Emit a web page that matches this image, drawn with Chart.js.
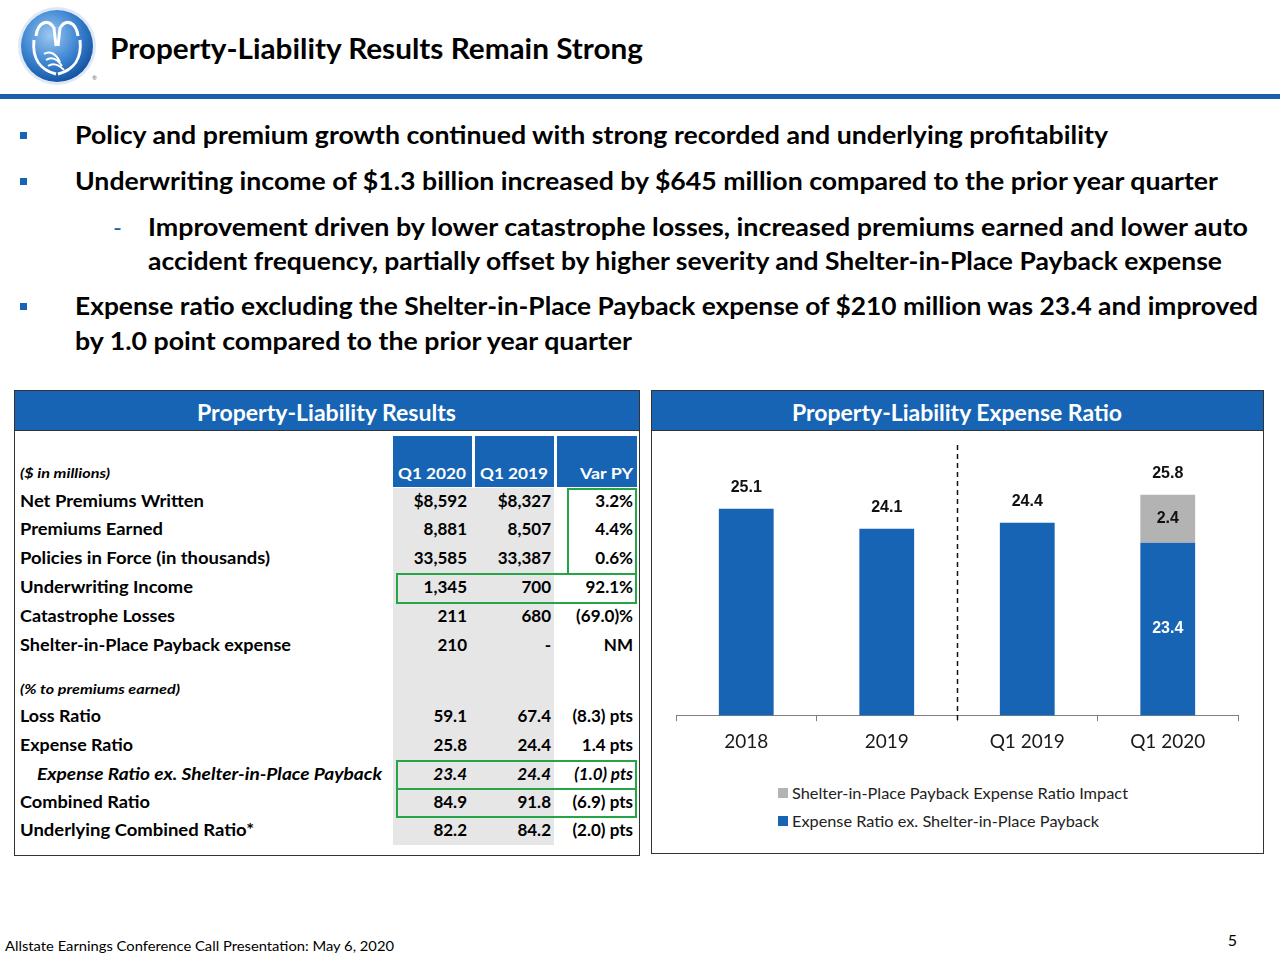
<!DOCTYPE html>
<html><head><meta charset="utf-8">
<script src="https://cdn.jsdelivr.net/npm/chart.js@4.4.1/dist/chart.umd.min.js"></script>
<style>
html,body{margin:0;padding:0;background:#fff;}
body{width:1280px;height:960px;position:relative;overflow:hidden;font-family:Lato,"Open Sans",sans-serif;color:#000;}
.t{position:absolute;white-space:nowrap;}
.box{position:absolute;box-sizing:border-box;}
</style>
</head><body>
<svg class="box" style="left:14px;top:6px" width="90" height="84" viewBox="0 0 90 84">
  <defs>
    <radialGradient id="lg" cx="0.4" cy="0.35" r="0.7">
      <stop offset="0" stop-color="#9cc8f0"/>
      <stop offset="0.55" stop-color="#3f86d2"/>
      <stop offset="1" stop-color="#0f4f9e"/>
    </radialGradient>
  </defs>
  <circle cx="43" cy="40" r="39" fill="#dfe9f5"/>
  <circle cx="43" cy="40" r="36" fill="url(#lg)"/>
  <path d="M22 30 C24 16 34 12 40 22 L42 40" stroke="#fff" stroke-width="3" fill="none"/>
  <path d="M64 30 C62 16 52 12 46 22 L44 40" stroke="#fff" stroke-width="3" fill="none"/>
  <path d="M20 34 C18 52 26 64 42 68" stroke="#fff" stroke-width="3" fill="none"/>
  <path d="M66 34 C68 52 60 64 44 68" stroke="#fff" stroke-width="3" fill="none"/>
  <path d="M30 48 C36 44 42 48 46 56 M32 54 C38 50 44 54 48 60 M34 60 C40 56 46 60 50 64" stroke="#fff" stroke-width="2" fill="none"/>
  <text x="78" y="74" font-size="6" fill="#666" font-family="Lato">®</text>
</svg>
<div class="box" style="left:0;top:94px;width:1280px;height:5px;background:#1b5fac"></div>

<!-- left panel -->
<div class="box" style="left:14px;top:390px;width:626px;height:466px;border:1.5px solid #333"></div>
<div class="box" style="left:15px;top:391px;width:624px;height:40px;background:#1764b4;border-bottom:1.5px solid #333"></div>
<div class="box" style="left:393px;top:436px;width:79px;height:51px;background:#1764b4"></div>
<div class="box" style="left:475px;top:436px;width:79px;height:51px;background:#1764b4"></div>
<div class="box" style="left:557px;top:436px;width:80px;height:51px;background:#1764b4"></div>
<div class="box" style="left:393px;top:488px;width:161px;height:357px;background:#e6e6e6"></div>
<div class="box" style="left:567px;top:488px;width:70px;height:87px;border:2px solid #25a548"></div>
<div class="box" style="left:396px;top:573px;width:241px;height:31px;border:2px solid #25a548"></div>
<div class="box" style="left:396px;top:760px;width:241px;height:30px;border:2px solid #25a548"></div>
<div class="box" style="left:396px;top:788px;width:241px;height:30px;border:2px solid #25a548"></div>

<!-- right panel -->
<div class="box" style="left:651px;top:390px;width:613px;height:464px;border:1.5px solid #333"></div>
<div class="box" style="left:652px;top:391px;width:611px;height:40px;background:#1764b4;border-bottom:1.5px solid #333"></div>
<canvas id="c" width="610" height="331" style="position:absolute;left:652px;top:431px"></canvas>
<div class="box" style="left:778px;top:788px;width:10px;height:10px;background:#b3b3b3"></div>
<div class="box" style="left:778px;top:816px;width:10px;height:10px;background:#1764b4"></div>

<script>
// ---- chart data ----
const categories = ['2018', '2019', 'Q1 2019', 'Q1 2020'];
const expenseRatioExSIP = [25.1, 24.1, 24.4, 23.4];
const sipPaybackImpact = [null, null, null, 2.4];
const totalExpenseRatio = [25.1, 24.1, 24.4, 25.8];
const seriesNames = ['Expense Ratio ex. Shelter-in-Place Payback', 'Shelter-in-Place Payback Expense Ratio Impact'];

// ---- table data ----
const tableHeader = ['Q1 2020', 'Q1 2019', 'Var PY'];
const tableRows = [
  ['Net Premiums Written', '$8,592', '$8,327', '3.2%'],
  ['Premiums Earned', '8,881', '8,507', '4.4%'],
  ['Policies in Force (in thousands)', '33,585', '33,387', '0.6%'],
  ['Underwriting Income', '1,345', '700', '92.1%'],
  ['Catastrophe Losses', '211', '680', '(69.0)%'],
  ['Shelter-in-Place Payback expense', '210', '-', 'NM'],
  ['Loss Ratio', '59.1', '67.4', '(8.3) pts'],
  ['Expense Ratio', '25.8', '24.4', '1.4 pts'],
  ['Expense Ratio ex. Shelter-in-Place Payback', '23.4', '24.4', '(1.0) pts'],
  ['Combined Ratio', '84.9', '91.8', '(6.9) pts'],
  ['Underlying Combined Ratio*', '82.2', '84.2', '(2.0) pts']
];
const rowY = [502, 530, 559, 588, 617, 646, 717, 746, 775, 803, 831];
const labelW = [184, 143, 250, 173, 155, 271, 81, 113, 345, 130, 234];

const FONT = 'Lato, "Open Sans", sans-serif';
const BLUE = '#1764b4', GREY = '#b3b3b3';

function T(txt, x, cy, opt) {
  opt = opt || {};
  const fs = opt.size || 24;
  const d = document.createElement('div');
  d.className = 't';
  d.textContent = txt;
  d.style.font = (opt.italic ? 'italic ' : '') + (opt.weight || 700) + ' ' + fs + 'px ' + FONT;
  d.style.color = opt.color || '#000';
  d.style.lineHeight = (fs * 1.2) + 'px';
  d.style.top = (cy - fs * 0.62) + 'px';
  d.style.left = '0px';
  document.body.appendChild(d);
  const nat = d.getBoundingClientRect().width;
  const sx = opt.w ? opt.w / nat : 1;
  const vis = nat * sx;
  let left = x;
  if (opt.align === 'center') left = x - vis / 2;
  else if (opt.align === 'right') left = x - vis;
  d.style.left = left + 'px';
  d.style.transformOrigin = '0 0';
  d.style.transform = 'scaleX(' + sx + ')';
  return d;
}
function sq(x, y) {
  const d = document.createElement('div');
  d.className = 'box';
  d.style.cssText += 'left:' + x + 'px;top:' + y + 'px;width:7px;height:7px;background:' + BLUE;
  document.body.appendChild(d);
}

// title + bullets
T('Property-Liability Results Remain Strong', 110, 49, {size: 28, w: 533});
sq(20, 132); sq(20, 178); sq(20, 303);
T('Policy and premium growth continued with strong recorded and underlying profitability', 75, 136, {size: 24, w: 1033});
T('Underwriting income of $1.3 billion increased by $645 million compared to the prior year quarter', 75, 182, {size: 24, w: 1143});
T('-', 113, 228, {size: 24, color: '#1b5fac', weight: 400});
T('Improvement driven by lower catastrophe losses, increased premiums earned and lower auto', 148, 228, {size: 24, w: 1100});
T('accident frequency, partially offset by higher severity and Shelter-in-Place Payback expense', 148, 262, {size: 24, w: 1074});
T('Expense ratio excluding the Shelter-in-Place Payback expense of $210 million was 23.4 and improved', 75, 307, {size: 24, w: 1183});
T('by 1.0 point compared to the prior year quarter', 75, 342, {size: 24, w: 557});

// panel headers
T('Property-Liability Results', 326, 414, {size: 22, color: '#fff', w: 259, align: 'center'});
T('Property-Liability Expense Ratio', 957, 414, {size: 22, color: '#fff', w: 330, align: 'center'});

// table
T('($ in millions)', 20, 474, {size: 13, italic: true, w: 90});
T(tableHeader[0], 432, 473, {size: 16, color: '#fff', align: 'center', w: 68});
T(tableHeader[1], 514, 473, {size: 16, color: '#fff', align: 'center', w: 68});
T(tableHeader[2], 633, 473, {size: 16, color: '#fff', align: 'right', w: 53});
T('(% to premiums earned)', 20, 690, {size: 13, italic: true, w: 160});
tableRows.forEach((r, i) => {
  const it = i === 8;
  T(r[0], it ? 37 : 20, rowY[i], {size: 17, italic: it, w: labelW[i]});
  T(r[1], 467, rowY[i], {size: 17, italic: it, align: 'right'});
  T(r[2], 551, rowY[i], {size: 17, italic: it, align: 'right'});
  T(r[3], 633, rowY[i], {size: 17, italic: it, align: 'right'});
});

// legend text
T(seriesNames[1], 792, 793, {size: 15, weight: 400, color: '#222', w: 336});
T(seriesNames[0], 792, 821, {size: 15, weight: 400, color: '#222', w: 307});

// footer
T('Allstate Earnings Conference Call Presentation: May 6, 2020', 5, 947, {size: 14, weight: 400, w: 389});
T('5', 1237, 940, {size: 16, weight: 400, align: 'right'});

// ---- chart ----
const LBL = "bold 16px 'Liberation Sans Narrow', 'Liberation Sans', Arial, sans-serif";
const labelPlugin = {
  id: 'labels',
  afterDatasetsDraw(chart) {
    const ctx = chart.ctx;
    const x = chart.scales.x;
    const area = chart.chartArea;
    ctx.save();
    // dashed divider between annual and quarterly
    const xm = (x.getPixelForValue(1) + x.getPixelForValue(2)) / 2;
    ctx.strokeStyle = '#111';
    ctx.lineWidth = 1.5;
    ctx.setLineDash([5, 4]);
    ctx.beginPath();
    ctx.moveTo(Math.round(xm) + 0.5, 445 - 431);
    ctx.lineTo(Math.round(xm) + 0.5, area.bottom + 6);
    ctx.stroke();
    ctx.setLineDash([]);
    ctx.font = LBL;
    ctx.textAlign = 'center';
    ctx.textBaseline = 'middle';
    const m0 = chart.getDatasetMeta(0), m1 = chart.getDatasetMeta(1);
    categories.forEach((c, i) => {
      const b0 = m0.data[i];
      const b1 = m1.data[i];
      let top = b0.y;
      if (sipPaybackImpact[i] != null) {
        top = b1.y;
        ctx.fillStyle = '#111';
        ctx.fillText(sipPaybackImpact[i].toFixed(1), b1.x, (b1.y + b1.base) / 2);
        ctx.fillStyle = '#fff';
        ctx.fillText(expenseRatioExSIP[i].toFixed(1), b0.x, (b0.y + area.bottom) / 2);
      }
      ctx.fillStyle = '#111';
      ctx.fillText(totalExpenseRatio[i].toFixed(1), b0.x, top - 21);
    });
    ctx.restore();
  }
};

new Chart(document.getElementById('c'), {
  type: 'bar',
  data: {
    labels: categories,
    datasets: [
      {label: seriesNames[0], data: expenseRatioExSIP, backgroundColor: BLUE, stack: 's'},
      {label: seriesNames[1], data: sipPaybackImpact, backgroundColor: GREY, stack: 's'}
    ]
  },
  options: {
    responsive: false,
    animation: false,
    layout: {padding: {left: 24, right: 24, top: 0, bottom: 0}},
    datasets: {bar: {categoryPercentage: 1, barPercentage: 0.39}},
    plugins: {legend: {display: false}, tooltip: {enabled: false}},
    scales: {
      x: {
        stacked: true,
        grid: {display: true, drawOnChartArea: false, drawTicks: true, tickLength: 6, color: '#808080', offset: true},
        border: {display: true, color: '#808080', width: 1},
        ticks: {font: {family: 'Lato', size: 19}, color: '#1a1a1a', padding: 9}
      },
      y: {stacked: true, display: false, min: 14.75, max: 29.0}
    }
  },
  plugins: [labelPlugin]
});
</script>
</body></html>
